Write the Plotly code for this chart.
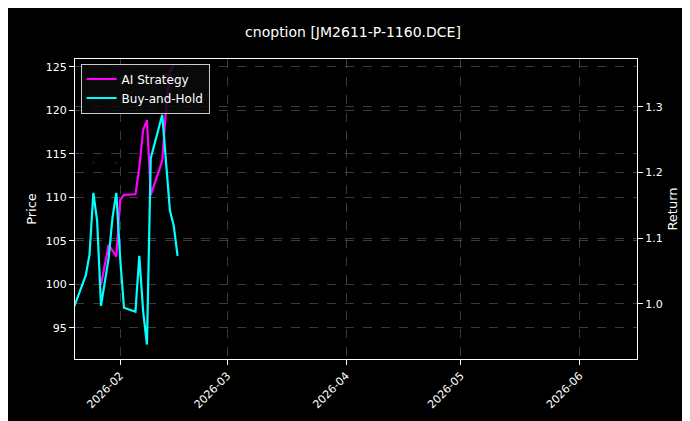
import plotly.graph_objects as go

# --- Data ---
bh_dates = ["2026-01-20", "2026-01-23", "2026-01-24", "2026-01-25", "2026-01-26",
            "2026-01-27", "2026-01-29", "2026-01-30", "2026-01-31", "2026-02-01",
            "2026-02-02", "2026-02-05", "2026-02-06", "2026-02-07", "2026-02-08",
            "2026-02-09", "2026-02-12", "2026-02-14", "2026-02-15", "2026-02-16"]
bh_return = [0.996, 1.043, 1.075, 1.169, 1.126, 0.997, 1.070, 1.131, 1.169, 1.070,
             0.994, 0.988, 1.073, 0.989, 0.938, 1.222, 1.288, 1.142, 1.119, 1.073]

ai_dates = ["2026-01-27", "2026-01-29", "2026-01-30", "2026-01-31", "2026-02-01",
            "2026-02-02", "2026-02-05", "2026-02-06", "2026-02-07", "2026-02-08",
            "2026-02-09", "2026-02-12", "2026-02-13", "2026-02-14", "2026-02-15"]
ai_return = [1.029, 1.090, 1.081, 1.072, 1.158, 1.166, 1.167, 1.207, 1.265, 1.280,
             1.166, 1.218, 1.298, 1.355, 1.364]

price_dates = ["2026-01-25", "2026-01-31"]
price_values = [114.0, 114.0]

fig = go.Figure()
fig.add_trace(go.Scatter(x=price_dates, y=price_values, mode="markers", yaxis="y",
                         marker=dict(color="#3a0000", size=3), showlegend=False))
fig.add_trace(go.Scatter(x=ai_dates, y=ai_return, mode="lines", name="AI Strategy",
                         yaxis="y2", line=dict(color="#ff00ff", width=2.2)))
fig.add_trace(go.Scatter(x=bh_dates, y=bh_return, mode="lines", name="Buy-and-Hold",
                         yaxis="y2", line=dict(color="#00ffff", width=2.2)))

grid = "rgba(128,128,128,0.45)"
fig.update_layout(
    width=690, height=421,
    paper_bgcolor="black", plot_bgcolor="black",
    font=dict(family="DejaVu Sans", color="white", size=11),
    title=dict(text="cnoption [JM2611-P-1160.DCE]", x=0.5, xanchor="center",
               y=0.955, font=dict(size=14)),
    margin=dict(l=67, r=61, t=51, b=70),
    xaxis=dict(type="date", range=["2026-01-20 05:00", "2026-06-16"], automargin=False,
               tickvals=["2026-02-01", "2026-03-01", "2026-04-01", "2026-05-01", "2026-06-01"],
               ticktext=["2026-02", "2026-03", "2026-04", "2026-05", "2026-06"],
               tickangle=-45, ticks="outside", tickcolor="white",
               showgrid=True, gridcolor=grid, griddash="dash", gridwidth=0.5,
               showline=True, linecolor="white", mirror=True, zeroline=False),
    yaxis=dict(title=dict(text="Price", standoff=6), range=[91.4, 125.9], automargin=False,
               tickvals=[95, 100, 105, 110, 115, 120, 125], ticks="outside", tickcolor="white",
               showgrid=True, gridcolor=grid, griddash="dash", gridwidth=0.5,
               showline=True, linecolor="white", zeroline=False),
    yaxis2=dict(title=dict(text="Return", standoff=6), overlaying="y", side="right",
                range=[0.916, 1.373], tickvals=[1.0, 1.1, 1.2, 1.3], tickformat=".1f",
                automargin=False, ticks="outside", tickcolor="white",
                showgrid=True, gridcolor=grid, griddash="dash", gridwidth=0.5,
                showline=True, linecolor="white", zeroline=False),
    legend=dict(x=0.01, y=0.985, xanchor="left", yanchor="top",
                bgcolor="rgba(10,10,10,0.85)", bordercolor="#cccccc", borderwidth=1,
                font=dict(size=12)),
)

fig.write_html("out.html")
